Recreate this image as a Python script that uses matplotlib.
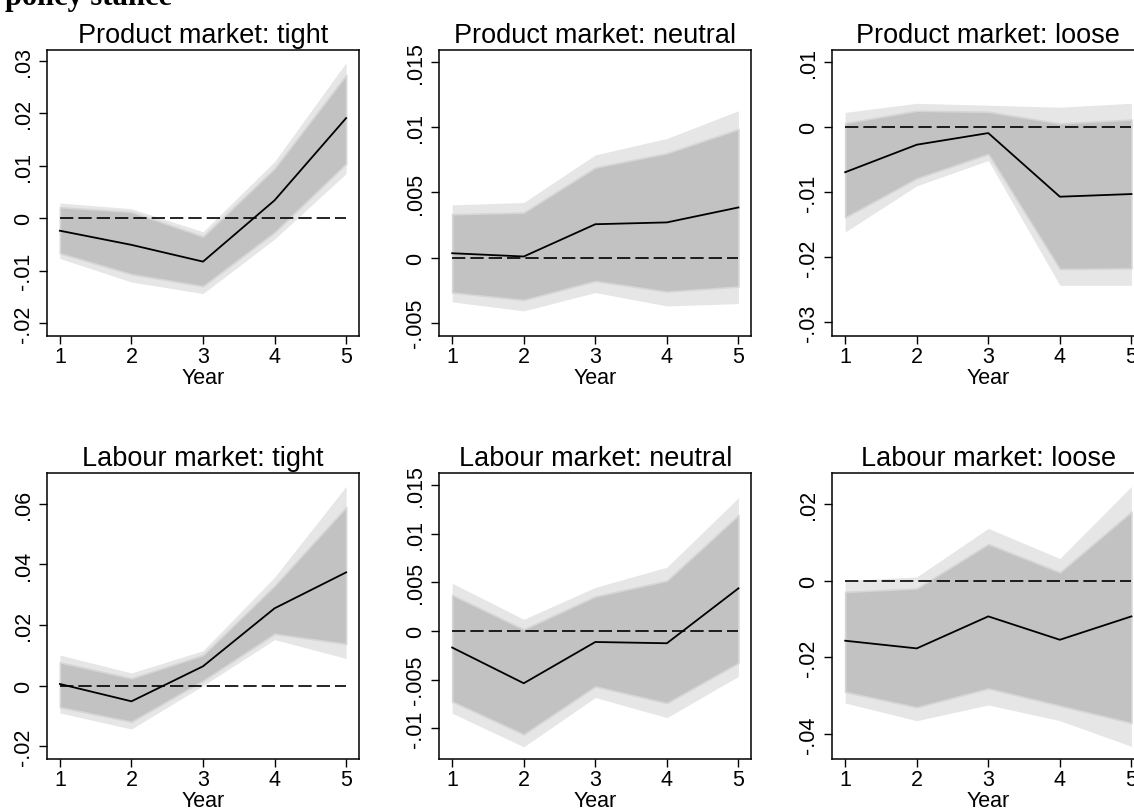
import matplotlib
matplotlib.use('Agg')
import matplotlib.pyplot as plt

plt.rcParams['font.family'] = ['Liberation Sans', 'DejaVu Sans']

years = [1, 2, 3, 4, 5]

titles = ['Product market: tight', 'Product market: neutral', 'Product market: loose',
          'Labour market: tight', 'Labour market: neutral', 'Labour market: loose']

# point estimates
est_pm_tight = [-0.0024, -0.0051, -0.0083, 0.0034, 0.0191]
est_pm_neutral = [0.00033, 0.00008, 0.00256, 0.0027, 0.00385]
est_pm_loose = [-0.0069, -0.00267, -0.00088, -0.01067, -0.01026]
est_lm_tight = [0.00056, -0.00516, 0.0064, 0.02554, 0.0374]
est_lm_neutral = [-0.0017, -0.00537, -0.00113, -0.00126, 0.00438]
est_lm_loose = [-0.01565, -0.01765, -0.0093, -0.0154, -0.0093]

# inner (dark) band
in_lo_pm_tight = [-0.0067, -0.0107, -0.0130, -0.0027, 0.0104]
in_hi_pm_tight = [0.0021, 0.0012, -0.0035, 0.0095, 0.0273]
in_lo_pm_neutral = [-0.00269, -0.00326, -0.0018, -0.00262, -0.00223]
in_hi_pm_neutral = [0.00333, 0.00346, 0.00692, 0.00802, 0.00987]
in_lo_pm_loose = [-0.01385, -0.00785, -0.0041, -0.0218, -0.0217]
in_hi_pm_loose = [0.00066, 0.00256, 0.0024, 0.0006, 0.0012]
in_lo_lm_tight = [-0.0071, -0.0119, 0.00165, 0.0171, 0.0138]
in_hi_lm_tight = [0.0077, 0.00244, 0.0101, 0.0330, 0.0589]
in_lo_lm_neutral = [-0.00724, -0.01062, -0.00569, -0.00741, -0.00328]
in_hi_lm_neutral = [0.0037, 0.00017, 0.00355, 0.00517, 0.0119]
in_lo_lm_loose = [-0.0290, -0.0330, -0.0281, -0.0326, -0.0371]
in_hi_lm_loose = [-0.0029, -0.0020, 0.00957, 0.0022, 0.0180]

# outer (light) band
out_lo_pm_tight = [-0.0077, -0.0122, -0.0144, -0.0040, 0.0085]
out_hi_pm_tight = [0.0029, 0.0018, -0.0026, 0.0108, 0.0297]
out_lo_pm_neutral = [-0.00341, -0.0041, -0.00269, -0.00372, -0.00354]
out_hi_pm_neutral = [0.00405, 0.00423, 0.00789, 0.00915, 0.01128]
out_lo_pm_loose = [-0.0161, -0.0090, -0.0051, -0.0243, -0.0243]
out_hi_pm_loose = [0.0023, 0.0037, 0.0034, 0.0031, 0.0037]
out_lo_lm_tight = [-0.0090, -0.0143, 0.0000, 0.0152, 0.0090]
out_hi_lm_tight = [0.0101, 0.0042, 0.01155, 0.0358, 0.0658]
out_lo_lm_neutral = [-0.00845, -0.0119, -0.00683, -0.0089, -0.00466]
out_hi_lm_neutral = [0.0049, 0.0012, 0.00448, 0.00655, 0.01369]
out_lo_lm_loose = [-0.0319, -0.0365, -0.0324, -0.0365, -0.0432]
out_hi_lm_loose = [0.0000, 0.0010, 0.01365, 0.0058, 0.0246]

ytick_pm_tight = [-0.02, -0.01, 0, 0.01, 0.02, 0.03]
ytick_pm_neutral = [-0.005, 0, 0.005, 0.01, 0.015]
ytick_pm_loose = [-0.03, -0.02, -0.01, 0, 0.01]
ytick_lm_tight = [-0.02, 0, 0.02, 0.04, 0.06]
ytick_lm_neutral = [-0.01, -0.005, 0, 0.005, 0.01, 0.015]
ytick_lm_loose = [-0.04, -0.02, 0, 0.02]

ylims = [(-0.0225, 0.0321), (-0.00603, 0.01595), (-0.0321, 0.0119),
         (-0.0242, 0.0702), (-0.01315, 0.01623), (-0.0465, 0.0281)]

panels = [
    (est_pm_tight, in_lo_pm_tight, in_hi_pm_tight, out_lo_pm_tight, out_hi_pm_tight, ytick_pm_tight),
    (est_pm_neutral, in_lo_pm_neutral, in_hi_pm_neutral, out_lo_pm_neutral, out_hi_pm_neutral, ytick_pm_neutral),
    (est_pm_loose, in_lo_pm_loose, in_hi_pm_loose, out_lo_pm_loose, out_hi_pm_loose, ytick_pm_loose),
    (est_lm_tight, in_lo_lm_tight, in_hi_lm_tight, out_lo_lm_tight, out_hi_lm_tight, ytick_lm_tight),
    (est_lm_neutral, in_lo_lm_neutral, in_hi_lm_neutral, out_lo_lm_neutral, out_hi_lm_neutral, ytick_lm_neutral),
    (est_lm_loose, in_lo_lm_loose, in_hi_lm_loose, out_lo_lm_loose, out_hi_lm_loose, ytick_lm_loose),
]


def stata_label(v):
    # Stata-style: drop leading zero, e.g. .03 / -.02
    if v == 0:
        return '0'
    s = ('%g' % v)
    return s.replace('0.', '.')


W, H = 1134, 812
fig = plt.figure(figsize=(W / 100, H / 100), dpi=100)

# axes boxes in pixels: left, top
lefts = [47, 439.3, 832.3]
tops = [51, 474]
aw, ah = 312, 286

for i, (est, ilo, ihi, olo, ohi, yt) in enumerate(panels):
    r, c = divmod(i, 3)
    ax = fig.add_axes([lefts[c] / W, (H - tops[r] - ah) / H, aw / W, ah / H])
    ax.fill_between(years, olo, ohi, color='#e6e6e6', lw=0)
    ax.fill_between(years, ilo, ihi, facecolor='#c2c2c2', edgecolor='#d6d6d6', lw=1.2)
    ax.plot([years[0], years[-1]], [0, 0], color='black', lw=1.2, dashes=(8, 3))
    ax.plot(years, est, color='black', lw=1.3)
    ax.set_xlim(0.82, 5.18)
    ax.set_ylim(*ylims[i])
    ax.set_xticks(years)
    ax.set_yticks(yt)
    ax.set_yticklabels([stata_label(v) for v in yt], rotation=90, va='center')
    ax.tick_params(direction='out', length=6, width=1, labelsize=15.5)
    ax.tick_params(axis='x', pad=1.5)
    ax.tick_params(axis='y', pad=3.5)
    ax.set_xlabel('Year', fontsize=15.5, labelpad=0)
    ax.set_title(titles[i], fontsize=19.5, pad=5.5)
    for sp in ax.spines.values():
        sp.set_linewidth(1.1)

fig.text(5 / W, 1 - 5 / H, 'policy stance', ha='left', va='baseline',
         fontsize=22, fontweight='bold', family='Liberation Serif')

fig.savefig('out.png', dpi=100)
